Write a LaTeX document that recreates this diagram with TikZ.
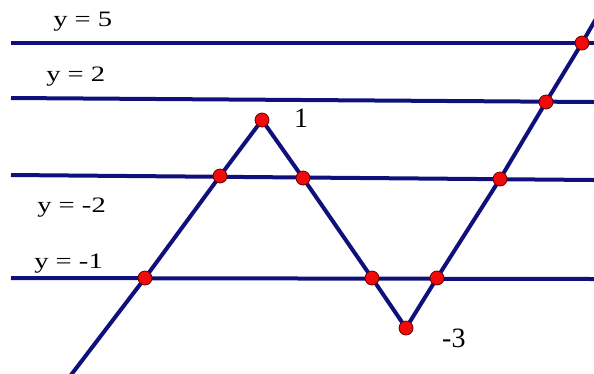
\documentclass[tikz,border=0pt]{standalone}
\usepackage{fontspec}
\setmainfont{Liberation Serif}
\usepackage{xcolor}
\definecolor{navy}{RGB}{16,16,125}
\definecolor{ptred}{RGB}{240,10,10}

\begin{document}
\begin{tikzpicture}[x=1pt, y=-1pt,
    level/.style={line width=4pt, color=navy},
    graphline/.style={line width=4pt, color=navy, line join=round},
    redpt/.style={circle, fill=ptred, draw=black!60!red, line width=0.8pt, inner sep=0pt, minimum size=14pt},
    lbl/.style={font=\fontsize{22}{26}\selectfont, anchor=base west, inner sep=0pt, xscale=1.3, transform shape},
    vallbl/.style={font=\fontsize{28}{32}\selectfont, anchor=base west, inner sep=0pt}]
            \useasboundingbox (0,0) rectangle (594,373);

            % horizontal levels
            \coordinate (l5) at (11,43);   \coordinate (r5) at (594,43);
            \coordinate (l2) at (11,98);   \coordinate (r2) at (594,102);
            \coordinate (lm2) at (11,175); \coordinate (rm2) at (594,180);
            \coordinate (lm1) at (11,278); \coordinate (rm1) at (594,279);

            \draw[level] (l5) -- (r5);
            \draw[level] (l2) -- (r2);
            \draw[level] (lm2) -- (rm2);
            \draw[level] (lm1) -- (rm1);

            % points of the graph
            \coordinate (start) at (71,375);
            \coordinate (a1) at (145,278);
            \coordinate (a2) at (220,176);
            \coordinate (top) at (262,120);
            \coordinate (b1) at (303,178);
            \coordinate (b2) at (372,278);
            \coordinate (low) at (406,328);
            \coordinate (c1) at (437,278);
            \coordinate (c2) at (500,179);
            \coordinate (c3) at (546,102);
            \coordinate (c4) at (582,43);
            \coordinate (end) at (597,17);

            \draw[graphline] (start) -- (a1) -- (a2) -- (top) -- (b1) -- (b2) -- (low) -- (c1) -- (c2) -- (c3) -- (c4) -- (end);

            \foreach \p in {a1,a2,top,b1,b2,low,c1,c2,c3,c4}
                \node[redpt] (pt-\p) at (\p) {};

            \node[lbl] (t5) at (53,26) {y = 5};
            \node[lbl] (t2) at (46,81) {y = 2};
            \node[lbl] (tm2) at (37,212) {y = -2};
            \node[lbl] (tm1) at (34,268) {y = -1};
            \node[vallbl] (tmax) at (294,127) {1};
            \node[vallbl] (tmin) at (442,347) {-3};
        \end{tikzpicture}
\end{document}
